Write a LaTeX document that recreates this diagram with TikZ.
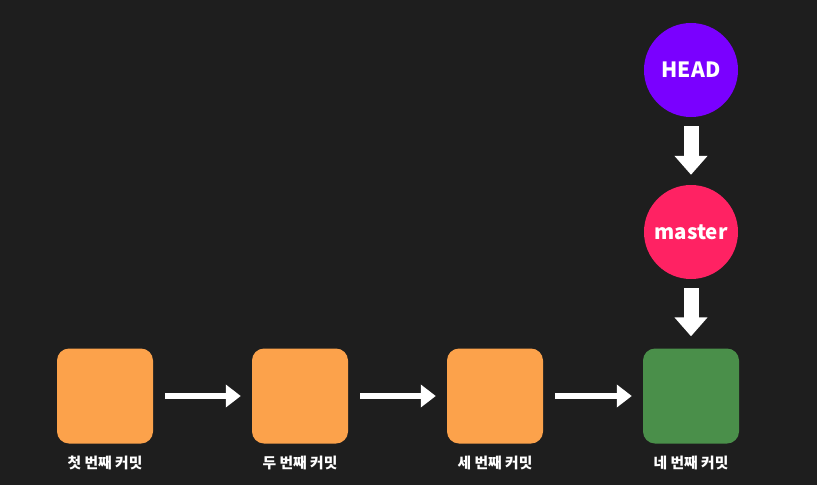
\documentclass[tikz,border=0pt]{standalone}
\usepackage{fontspec}
\setmainfont{Noto Sans CJK KR}
\usetikzlibrary{arrows.meta}
\definecolor{bg}{HTML}{1E1E1E}
\definecolor{orangec}{HTML}{FCA24B}
\definecolor{greenc}{HTML}{4A8F4A}
\definecolor{headc}{HTML}{7A00FF}
\definecolor{masterc}{HTML}{FF2263}
\tikzset{
  commit/.style={minimum width=96pt, minimum height=95pt, rounded corners=12pt, inner sep=0pt},
  lbl/.style={text=white, font=\bfseries\fontsize{14.8}{16}\selectfont, inner sep=0pt},
  ref/.style={circle, minimum size=94pt, inner sep=0pt, text=white},
  harrow/.style={draw=white, line width=6.5pt, -{Triangle[width=22pt,length=15pt]}},
  varrow/.style={draw=white, line width=15pt, -{Triangle[width=32pt,length=19pt]}}
}
\begin{document}
\begin{tikzpicture}[x=1pt,y=-1pt]
\fill[bg] (0,0) rectangle (817,485);
\useasboundingbox (0,0) rectangle (817,485);
\node[commit, fill=orangec] (c1) at (105,396) {};
\node[commit, fill=orangec] (c2) at (300,396) {};
\node[commit, fill=orangec] (c3) at (495,396) {};
\node[commit, fill=greenc] (c4) at (691,396) {};
\node[lbl] (l1) at (105,463) {첫 번째 커밋};
\node[lbl] (l2) at (300,463) {두 번째 커밋};
\node[lbl] (l3) at (495,463) {세 번째 커밋};
\node[lbl] (l4) at (691,463) {네 번째 커밋};
\node[ref, fill=headc, font=\bfseries\fontsize{21}{24}\selectfont] (head) at (691,70) {HEAD};
\node[ref, fill=masterc, font=\bfseries\fontsize{20.5}{24}\selectfont] (master) at (691,232) {master};
\draw[harrow, shorten <=12pt, shorten >=11pt] (c1) -- (c2);
\draw[harrow, shorten <=12pt, shorten >=11pt] (c2) -- (c3);
\draw[harrow, shorten <=12pt, shorten >=11pt] (c3) -- (c4);
\draw[varrow, shorten <=9pt, shorten >=10pt] (head) -- (master);
\draw[varrow, shorten <=9pt, shorten >=12pt] (master) -- (c4);
\end{tikzpicture}
\end{document}
